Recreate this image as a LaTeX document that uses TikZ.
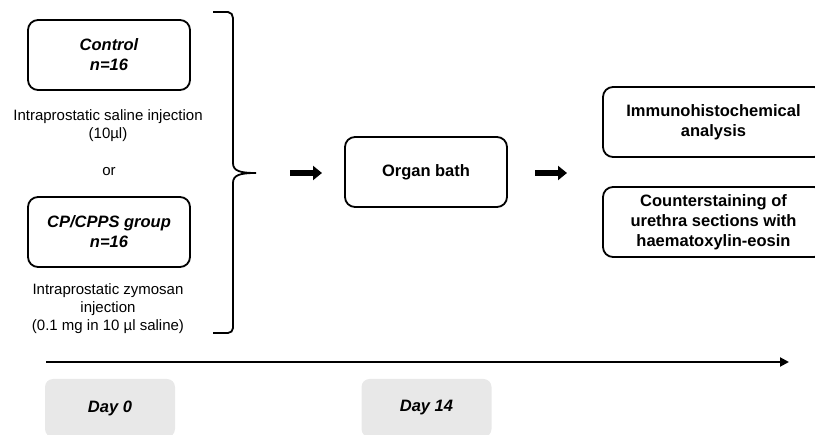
\documentclass[tikz,border=0pt]{standalone}
\usepackage{fontspec}
\setmainfont{Liberation Sans}
\usetikzlibrary{arrows.meta,positioning}

\tikzset{
    stagebox/.style={draw, line width=1.8pt, rounded corners=10pt,
        minimum width=162pt, minimum height=70pt, align=center,
        font=\fontsize{16.5}{20}\selectfont\bfseries},
    daybox/.style={fill=gray!18, rounded corners=8pt,
        minimum width=130pt, minimum height=58pt,
        font=\fontsize{16.5}{20}\selectfont\bfseries\itshape},
    notetext/.style={align=center, font=\fontsize{15}{18}\selectfont},
    blockarrow/.style={line width=6pt, -{Triangle[length=9pt,width=14pt]}},
}

\begin{document}
\begin{tikzpicture}[x=1pt,y=-1pt]
    \clip (0,0) rectangle (815,435);

    % Groups
    \node[stagebox, font=\fontsize{16.5}{20}\selectfont\bfseries\itshape] (control) at (109,55) {Control\\n=16};
    \node[notetext] (saline) at (108,126) {Intraprostatic saline injection\\(10µl)};
    \node[notetext] (or) at (109,172) {or};
    \node[stagebox, font=\fontsize{16.5}{20}\selectfont\bfseries\itshape] (cpcpps) at (109,232) {CP/CPPS group\\n=16};
    \node[notetext] (zymosan) at (108,309) {Intraprostatic zymosan\\injection\\(0.1 mg in 10 µl saline)};

    % Brace
    \coordinate (bracetip) at (256,173);
    \draw[line width=1.8pt]
        (213,12) -- (228,12) to[out=0,in=90] (233,18)
        -- (233,163) .. controls (233,171) and (240,173) .. (bracetip)
        .. controls (240,173) and (233,175) .. (233,183)
        -- (233,328) to[out=-90,in=0] (228,333) -- (213,333);

    % Organ bath and analyses
    \node[stagebox] (bath) at (426,172) {Organ bath};
    \node[stagebox, minimum width=221pt] (immuno) at (713.5,122) {Immunohistochemical\\analysis};
    \node[stagebox, minimum width=221pt] (counter) at (713.5,222) {Counterstaining of\\urethra sections with\\haematoxylin-eosin};

    % Block arrows
    \coordinate (a1) at (290,173);
    \coordinate (a2) at (535,173);
    \draw[blockarrow] (a1) -- ++(32,0);
    \draw[blockarrow] (a2) -- ++(32,0);

    % Time line
    \coordinate (tstart) at (46,362);
    \coordinate (tend) at (789,362);
    \draw[line width=2pt, -{Triangle[length=9pt,width=9pt]}] (tstart) -- (tend);

    % Days
    \node[daybox] (day0) at (110,408) {Day 0};
    \node[daybox] (day14) at (426.5,408) {Day 14};

\end{tikzpicture}
\end{document}
